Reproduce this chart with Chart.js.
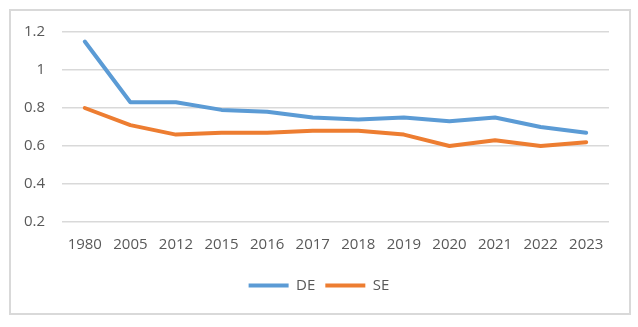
<!DOCTYPE html>
<html>
<head>
<meta charset="utf-8">
<script src="https://cdn.jsdelivr.net/npm/chart.js"></script>
<style>
  body { margin: 0; background: #fff; }
  #wrap { position: relative; width: 638px; height: 327px; }
  #frame {
    position: absolute; left: 9px; top: 9px; width: 622px; height: 306px;
    box-sizing: border-box; border: 2px solid #d9d9d9; pointer-events: none;
  }
</style>
</head>
<body>
<div id="wrap">
  <canvas id="chart" width="638" height="327"></canvas>
  <div id="frame"></div>
</div>
<script>
const years = ['1980', '2005', '2012', '2015', '2016', '2017', '2018', '2019', '2020', '2021', '2022', '2023'];
const deValues = [1.15, 0.83, 0.83, 0.79, 0.78, 0.75, 0.74, 0.75, 0.73, 0.75, 0.70, 0.67];
const seValues = [0.80, 0.71, 0.66, 0.67, 0.67, 0.68, 0.68, 0.66, 0.60, 0.63, 0.60, 0.62];
const yTicks = [0.2, 0.4, 0.6, 0.8, 1, 1.2];

const textColor = '#595959';
const gridColor = '#d9d9d9';
const font = { family: "'Open Sans', sans-serif", size: 15 };

function lineDataset(label, data, color) {
  return {
    label: label,
    data: data,
    borderColor: color,
    backgroundColor: color,
    borderWidth: 4,
    borderCapStyle: 'round',
    borderJoinStyle: 'round',
    pointRadius: 0,
    pointStyle: 'line',
    tension: 0,
  };
}

new Chart(document.getElementById('chart'), {
  type: 'line',
  data: {
    labels: years,
    datasets: [
      lineDataset('DE', deValues, '#5b9bd5'),
      lineDataset('SE', seValues, '#ed7d31'),
    ],
  },
  options: {
    responsive: false,
    animation: false,
    devicePixelRatio: 1,
    layout: { padding: { left: 10, right: 10, top: 32, bottom: 24 } },
    scales: {
      x: {
        offset: true,
        grid: { display: false, drawTicks: false },
        border: { display: false },
        ticks: { color: textColor, font: font, padding: 14, maxRotation: 0 },
      },
      y: {
        min: 0.2,
        max: 1.2,
        afterBuildTicks: scale => {
          scale.ticks = yTicks.map(v => ({ value: v }));
        },
        afterFit: scale => {
          scale.width = 52;
        },
        grid: { color: gridColor, lineWidth: 1.5, drawTicks: false },
        border: { display: false },
        ticks: {
          color: textColor,
          font: font,
          padding: 17,
          callback: value => String(Math.round(value * 10) / 10),
        },
      },
      // empty right axis, only keeps the plot clear of the right edge
      yRight: {
        position: 'right',
        afterFit: scale => {
          scale.width = 19;
        },
        grid: { display: false, drawTicks: false },
        border: { display: false },
        ticks: { display: false },
      },
    },
    plugins: {
      legend: {
        position: 'bottom',
        labels: {
          color: textColor,
          font: font,
          usePointStyle: true,
          pointStyleWidth: 40,
          boxHeight: 15,
          padding: 10,
        },
      },
      tooltip: { enabled: false },
    },
  },
});
</script>
</body>
</html>
